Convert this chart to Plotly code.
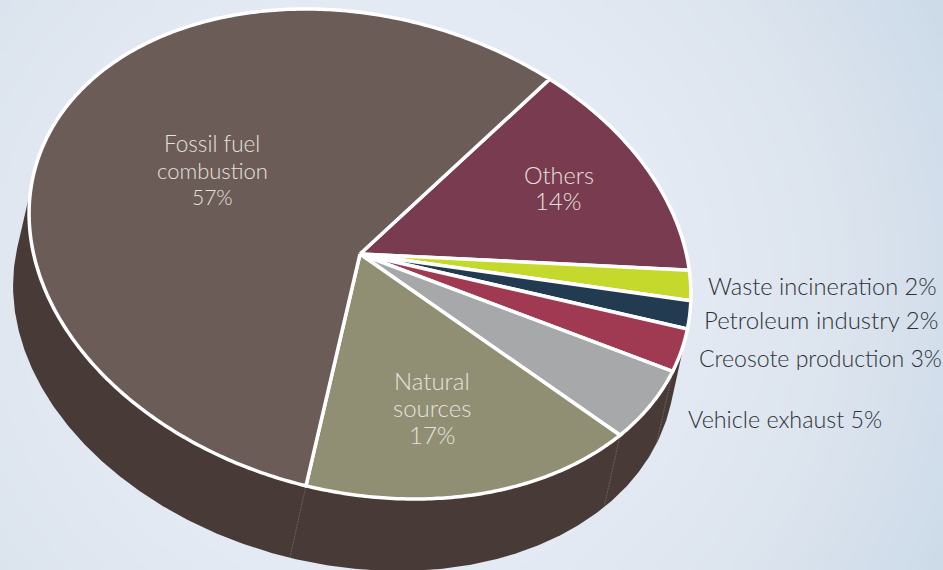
import base64, struct, zlib
import numpy as np
import plotly.graph_objects as go

categories = ["Others", "Waste incineration", "Petroleum industry", "Creosote production",
              "Vehicle exhaust", "Natural sources", "Fossil fuel combustion"]
values = [13.7, 2, 1.9, 3, 5.3, 17, 57.1]
colors = ["#793B50", "#C5D92D", "#233B51", "#A03A52", "#A6A8A9", "#908F74", "#6B5C57"]

labels_outside = ["Waste incineration 2%", "Petroleum industry 2%", "Creosote production 3%", "Vehicle exhaust 5%"]
labels_inside = [["Fossil fuel", "combustion", "57%"], ["Others", "14%"], ["Natural", "sources", "17%"]]

W, H = 943, 570
CX, CY = 360, 254
A, B = 336, 238
TILT = np.radians(14.2)
START = 65.2
DX, DY = -16, 72
SIDE = "#483A37"
FONT = "Lato Light"


def ell(t):
    u, v = A * np.cos(t), B * np.sin(t)
    x = CX + u * np.cos(TILT) + v * np.sin(TILT)
    y = CY + u * np.sin(TILT) - v * np.cos(TILT)
    return x, y


def hull(pts):
    pts = sorted(set(map(tuple, pts)))
    def half(ps):
        out = []
        for p in ps:
            while len(out) > 1 and (out[-1][0]-out[-2][0])*(p[1]-out[-2][1]) - (out[-1][1]-out[-2][1])*(p[0]-out[-2][0]) <= 0:
                out.pop()
            out.append(p)
        return out[:-1]
    return half(pts) + half(pts[::-1])


def png_uri(c):
    h, w = c.shape[:2]
    raw = b"".join(b"\0" + c[i].tobytes() for i in range(h))
    def chunk(t, d):
        return struct.pack(">I", len(d)) + t + d + struct.pack(">I", zlib.crc32(t + d))
    data = b"\x89PNG\r\n\x1a\n" + chunk(b"IHDR", struct.pack(">IIBBBBB", w, h, 8, 2, 0, 0, 0)) \
        + chunk(b"IDAT", zlib.compress(raw)) + chunk(b"IEND", b"")
    return "data:image/png;base64," + base64.b64encode(data).decode()


# background: soft radial glow
gx, gy = np.meshgrid(np.linspace(0, W, 190), np.linspace(0, H, 114))
r = np.hypot(gx - 380, gy - 290)
stops = [0, 300, 465, 625]
bg = np.dstack([np.interp(r, stops, s) for s in
                ([232, 228, 220, 205], [238, 234, 228, 219], [246, 243, 238, 233])]).round().astype(np.uint8)

fig = go.Figure()

# extruded side
tt = np.linspace(0, 2*np.pi, 721)[:-1]
ex, ey = ell(tt)
pts = np.round(np.r_[np.c_[ex, ey], np.c_[ex+DX, ey+DY]], 3)
hp = np.array(hull(pts))
fig.add_trace(go.Scatter(x=np.r_[hp[:, 0], hp[0, 0]], y=np.r_[hp[:, 1], hp[0, 1]], mode="lines", fill="toself",
                         fillcolor=SIDE, line=dict(color=SIDE, width=0), hoverinfo="skip", showlegend=False))

# slices from values
cum = np.cumsum([0] + values) / sum(values) * 2 * np.pi
t0 = np.radians(START)
for i, (name, col) in enumerate(zip(categories, colors)):
    t = t0 - np.linspace(cum[i], cum[i+1], max(3, int(values[i]*6)))
    x, y = ell(t)
    if name in ("Creosote production", "Vehicle exhaust", "Natural sources"):
        fig.add_trace(go.Scatter(x=[x[-1], x[-1]+DX], y=[y[-1], y[-1]+DY], mode="lines",
                                 line=dict(color="#7D716C", width=0.7, dash="2px,1px"),
                                 hoverinfo="skip", showlegend=False))
    fig.add_trace(go.Scatter(x=np.r_[CX, x, CX], y=np.r_[CY, y, CY], mode="lines", fill="toself",
                             fillcolor=col, line=dict(color="white", width=3.5, simplify=False), name=name,
                             hoverinfo="skip", showlegend=False))

ann = []
def txt(s, x, y, size, color):
    ann.append(dict(text=s, x=x, y=y, xref="x", yref="y", showarrow=False, xanchor="center", yanchor="middle",
                    height=round(size * 1.05), font=dict(family=FONT, size=size, color=color)))

for s, x, y, size in zip(labels_outside, [822, 821, 820.5, 785], [285, 319, 358, 419], [23.6, 24, 23.1, 23.3]):
    txt(s, x, y, size, "#2E3236")
for lines, x, ys, sizes in zip(labels_inside, [212, 558.5, 432], [[143, 170, 196], [174.5, 200.5], [380, 407, 434]],
                               [[22.5, 22, 21], [23.5, 24], [24, 24, 24]]):
    for s, y, size in zip(lines, ys, sizes):
        txt(s, x, y, size, "#E6E1DD")

fig.update_layout(width=W, height=H, margin=dict(l=0, r=0, t=0, b=0), paper_bgcolor="#DDE5EE",
                  plot_bgcolor="rgba(0,0,0,0)", showlegend=False, annotations=ann,
                  xaxis=dict(range=[0, W], visible=False, fixedrange=True),
                  yaxis=dict(range=[H, 0], visible=False, fixedrange=True),
                  images=[dict(source=png_uri(bg), xref="x", yref="y", x=0, y=0, sizex=W, sizey=H,
                               sizing="stretch", layer="below", xanchor="left", yanchor="top")])
fig.write_html("out.html", config=dict(displayModeBar=False),
               post_script="document.body.style.margin='0';document.documentElement.style.overflow='hidden';")
